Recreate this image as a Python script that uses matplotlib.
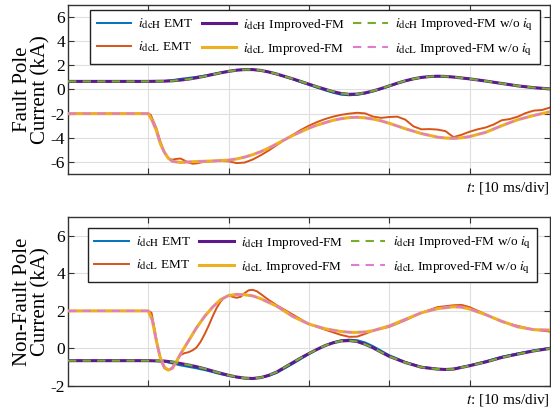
import numpy as np
import matplotlib
matplotlib.use("Agg")
import matplotlib.pyplot as plt
import matplotlib._mathtext as mtext

plt.rcParams['font.family'] = ['Liberation Serif', 'DejaVu Serif']
plt.rcParams['mathtext.fontset'] = 'stix'
# subscripts in the original are nearly full size
mtext.SHRINK_FACTOR = 0.82

# ---- fault pole (top) ----
t_top_h = [0, 10, 12, 13, 14, 15, 16, 17, 18, 19, 20, 21, 22, 23, 24, 25, 26, 27, 28, 29, 30,
           31, 32, 33, 34, 35, 36, 37, 38, 39, 40, 41, 42, 43, 44, 45, 46, 47, 48, 50, 52, 54, 56, 58, 60]
top_h_fm = [0.67, 0.67, 0.69, 0.72, 0.78, 0.86, 0.97, 1.1, 1.24, 1.38, 1.5, 1.6, 1.65, 1.65, 1.58, 1.45,
            1.28, 1.08, 0.88, 0.66, 0.44, 0.22, 0.02, -0.18, -0.33, -0.4, -0.38, -0.28, -0.12, 0.08,
            0.3, 0.52, 0.72, 0.88, 1.0, 1.07, 1.1, 1.08, 1.03, 0.88, 0.7, 0.5, 0.3, 0.15, 0.05]
top_h_emt = [0.67, 0.67, 0.7, 0.78, 0.88, 0.96, 1.05, 1.15, 1.27, 1.4, 1.52, 1.61, 1.65, 1.64, 1.57, 1.44,
             1.26, 1.05, 0.84, 0.6, 0.38, 0.15, -0.07, -0.27, -0.43, -0.48, -0.44, -0.33, -0.15, 0.05,
             0.27, 0.5, 0.7, 0.87, 0.99, 1.06, 1.1, 1.08, 1.03, 0.88, 0.7, 0.5, 0.3, 0.15, 0.05]

t_top_l_fm = [0, 10, 10.5, 11, 11.5, 12, 12.5, 13, 14, 15, 16, 18, 20, 21, 22, 23, 24, 25, 26, 27, 28, 29,
              30, 31, 32, 33, 34, 35, 36, 37, 38, 39, 40, 42, 44, 46, 47, 48, 49, 50, 52, 54, 56, 58, 60]
top_l_fm = [-2, -2, -2.6, -3.4, -4.5, -5.2, -5.7, -5.95, -6.05, -6.0, -5.97, -5.92, -5.85, -5.75, -5.6,
            -5.4, -5.15, -4.85, -4.5, -4.15, -3.8, -3.5, -3.2, -2.95, -2.75, -2.55, -2.42, -2.33, -2.3,
            -2.35, -2.45, -2.6, -2.8, -3.25, -3.65, -3.95, -4.02, -4.05, -4.0, -3.9, -3.55, -3.0, -2.5,
            -2.15, -1.85]

t_top_l_emt = [0, 10, 10.3, 11, 11.5, 12, 12.5, 13, 13.5, 14, 14.5, 15, 15.5, 16, 17, 18, 19, 20, 21,
               22, 23, 24, 25, 26, 27, 28, 29, 30, 31, 32, 33, 34, 35, 36, 37, 38, 39, 40, 41, 42, 43,
               44, 45, 46, 47, 48, 49, 50, 51, 52, 53, 54, 55, 56, 57, 58, 59, 60]
top_l_emt = [-2, -2, -2.1, -3.2, -4.3, -5.2, -5.7, -5.82, -5.75, -5.72, -5.88, -6.05, -6.15, -6.12,
             -5.98, -5.95, -5.92, -5.95, -6.1, -6.05, -5.8, -5.45, -5.05, -4.6, -4.15, -3.75, -3.35,
             -3.0, -2.7, -2.45, -2.25, -2.1, -2.0, -1.93, -1.98, -2.25, -2.35, -2.28, -2.25, -2.5,
             -3.05, -3.3, -3.28, -3.32, -3.45, -3.95, -3.75, -3.5, -3.3, -3.15, -2.9, -2.55, -2.45,
             -2.25, -1.95, -1.75, -1.7, -1.5]

# ---- non-fault pole (bottom) ----
t_bot_h = [0, 10, 12, 13, 14, 15, 16, 17, 18, 19, 20, 21, 22, 23, 24, 25, 26, 27, 28, 29, 30, 31, 32,
           33, 34, 35, 36, 37, 38, 39, 40, 42, 44, 46, 47, 48, 50, 52, 54, 56, 58, 60]
bot_h_fm = [-0.65, -0.65, -0.67, -0.72, -0.8, -0.88, -0.97, -1.08, -1.2, -1.32, -1.43, -1.52, -1.58,
            -1.6, -1.55, -1.43, -1.25, -1.0, -0.75, -0.5, -0.27, -0.05, 0.15, 0.3, 0.4, 0.42, 0.37,
            0.22, 0.03, -0.2, -0.42, -0.75, -1.0, -1.1, -1.12, -1.1, -0.92, -0.72, -0.48, -0.3, -0.13, 0.0]
bot_h_emt = [-0.65, -0.65, -0.7, -0.8, -0.9, -0.98, -1.06, -1.15, -1.26, -1.37, -1.46, -1.53, -1.58,
             -1.6, -1.56, -1.46, -1.3, -1.06, -0.82, -0.56, -0.3, -0.06, 0.15, 0.32, 0.43, 0.47, 0.44,
             0.32, 0.12, -0.12, -0.36, -0.72, -0.98, -1.09, -1.11, -1.08, -0.9, -0.68, -0.44, -0.26,
             -0.1, 0.03]

t_bot_l_fm = [0, 10, 10.5, 11, 11.5, 12, 12.5, 13, 13.5, 14, 15, 16, 17, 18, 19, 20, 21, 22, 23, 24, 25,
              26, 28, 30, 32, 34, 35.5, 37, 38, 40, 42, 44, 46, 48, 49, 50, 52, 54, 56, 58, 60]
bot_l_fm = [2, 2, 1.5, 0.4, -0.5, -1.0, -1.15, -1.05, -0.7, -0.3, 0.4, 1.1, 1.7, 2.2, 2.6, 2.82, 2.88,
            2.86, 2.8, 2.65, 2.45, 2.25, 1.7, 1.3, 1.05, 0.9, 0.85, 0.88, 0.95, 1.2, 1.55, 1.9, 2.12,
            2.22, 2.2, 2.1, 1.8, 1.45, 1.15, 1.0, 0.98]

t_bot_l_emt = [0, 10, 10.4, 10.8, 11.2, 11.6, 12, 12.4, 12.8, 13.2, 13.6, 14, 14.5, 15, 15.5, 16, 16.5,
               17, 17.5, 18, 18.5, 19, 19.5, 20, 20.5, 21, 21.5, 22, 22.5, 23, 23.5, 24, 25, 26, 27,
               28, 30, 32, 34, 35, 36, 37, 38, 39, 40, 42, 44, 46, 48, 49, 50, 52, 54, 56, 58, 60]
bot_l_emt = [2, 2, 1.9, 1.0, 0.0, -0.7, -1.05, -1.15, -1.1, -0.9, -0.6, -0.35, -0.25, -0.2, -0.1, 0.05,
             0.35, 0.75, 1.2, 1.7, 2.15, 2.5, 2.72, 2.82, 2.75, 2.7, 2.75, 2.95, 3.1, 3.12, 3.05, 2.9,
             2.58, 2.3, 2.05, 1.8, 1.3, 1.0, 0.72, 0.62, 0.63, 0.78, 0.95, 1.05, 1.15, 1.5, 1.9, 2.2,
             2.3, 2.32, 2.2, 1.82, 1.42, 1.2, 1.0, 0.9]

panels = [
    ("Fault Pole\nCurrent (kA)", (-7, 7), [6, 4, 2, 0, -2, -4, -6],
     t_top_h, top_h_emt, top_h_fm, t_top_h,
     t_top_l_emt, top_l_emt, t_top_l_fm, top_l_fm, (0.046, 0.97)),
    ("Non-Fault Pole\nCurrent (kA)", (-2, 7), [6, 4, 2, 0, -2],
     t_bot_h, bot_h_emt, bot_h_fm, t_bot_h,
     t_bot_l_emt, bot_l_emt, t_bot_l_fm, bot_l_fm, (0.041, 0.935)),
]

c_h_emt = '#0072BD'
c_l_emt = '#D95319'
c_h_fm = '#5E1A8C'
c_l_fm = '#EDB120'
c_h_wo = '#77AC30'
c_l_wo = '#E07BCF'

fig = plt.figure(figsize=(5.51, 4.09), dpi=100)
axes = [fig.add_axes([0.1234, 0.5746, 0.8746, 0.4132]),
        fig.add_axes([0.1234, 0.0562, 0.8746, 0.4132])]

for ax, p in zip(axes, panels):
    (ylab, ylim, yticks, th, h_emt, h_fm, th2, tle, l_emt, tlf, l_fm, leg_pos) = p
    ax.plot(th, h_emt, color=c_h_emt, lw=1.4, zorder=2, label=r'$i_{\mathrm{dcH}}$ EMT')
    ax.plot(tle, l_emt, color=c_l_emt, lw=1.4, zorder=2, label=r'$i_{\mathrm{dcL}}$ EMT')
    ax.plot(th2, h_fm, color=c_h_fm, lw=2.2, zorder=3, label=r'$i_{\mathrm{dcH}}$ Improved-FM')
    ax.plot(tlf, l_fm, color=c_l_fm, lw=2.2, zorder=3, label=r'$i_{\mathrm{dcL}}$ Improved-FM')
    ax.plot(th2, h_fm, color=c_h_wo, lw=1.5, ls=(0, (4, 3)), zorder=4,
            label=r'$i_{\mathrm{dcH}}$ Improved-FM w/o $i_{\mathrm{q}}$')
    ax.plot(tlf, l_fm, color=c_l_wo, lw=1.5, ls=(0, (4, 3)), zorder=4,
            label=r'$i_{\mathrm{dcL}}$ Improved-FM w/o $i_{\mathrm{q}}$')

    ax.set_xlim(0, 60)
    ax.set_ylim(*ylim)
    ax.set_xticks([10, 20, 30, 40, 50])
    ax.set_xticklabels([])
    ax.set_yticks(yticks)
    ax.set_yticklabels([str(v) for v in yticks], fontsize=12.5)
    ax.tick_params(direction='in', top=True, right=True, length=4, width=0.8, color='#333333', pad=2)
    ax.grid(True, color='#dedede', lw=0.8)
    ax.set_axisbelow(True)
    for s in ax.spines.values():
        s.set_color('#333333')
        s.set_linewidth(1.0)
    ax.set_ylabel(ylab, fontsize=15, linespacing=0.95)
    ax.yaxis.set_label_coords(-0.036, 0.5)
    ax.text(0.999, -0.035, r'$t$: [10 ms/div]', transform=ax.transAxes,
            ha='right', va='top', fontsize=11)
    ax.legend(loc='upper left', bbox_to_anchor=leg_pos, ncol=3, fontsize=9.5,
              fancybox=False, edgecolor='#222222', framealpha=1, handlelength=2.6,
              columnspacing=0.6, handletextpad=0.55, borderaxespad=0, labelspacing=0.6,
              borderpad=0.5)

fig.savefig('out.png', dpi=100)
